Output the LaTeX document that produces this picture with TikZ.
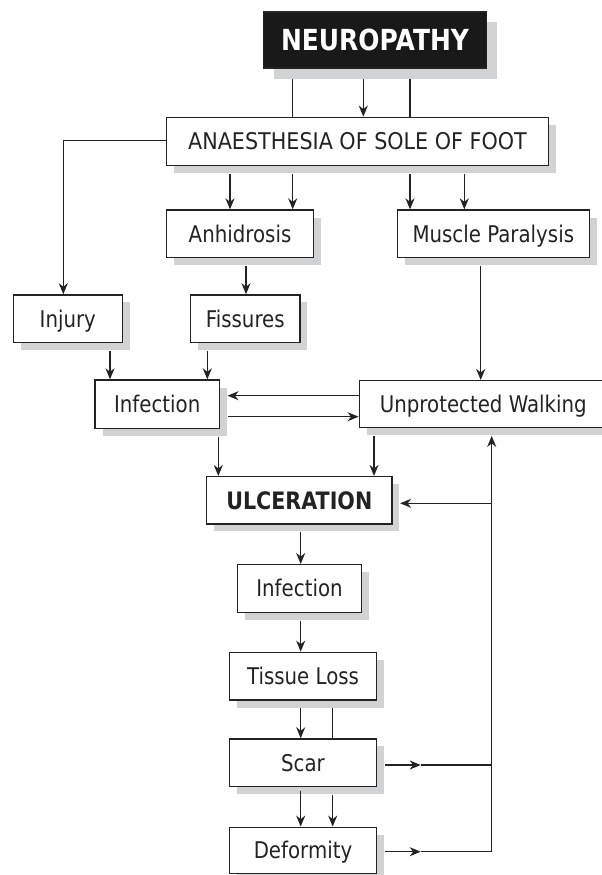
\documentclass[tikz,border=0pt]{standalone}
\usepackage{fontspec}
\setmainfont{DejaVu Sans}[FakeStretch=0.86]
\newfontfamily\capsfont{DejaVu Sans}[FakeStretch=0.9]
\usetikzlibrary{arrows.meta}
\definecolor{shadowgray}{RGB}{209,210,212}
\definecolor{inkgray}{RGB}{35,35,35}
\tikzset{
  sh/.style={preaction={draw=none, fill=shadowgray, transform canvas={xshift=#1, yshift=-#1}}},
  sh/.default=7.5pt,
  boxbase/.style={draw=inkgray, line width=1.4pt, fill=white, inner sep=0pt, align=center,
    text=inkgray, font=\fontsize{23}{27}\selectfont, text height=16.6pt, text depth=0pt},
  box/.style={boxbase, sh},
  ln/.style={draw=inkgray, color=inkgray, line width=1.35pt},
  arr/.style={ln, -{Stealth[length=11pt,width=9pt,inset=3.5pt]}}
}
\begin{document}
\begin{tikzpicture}[x=1pt,y=-1pt]
\useasboundingbox (0,0) rectangle (602,875);
\clip (0,0) rectangle (602,875);

% nodes
\node[boxbase, sh=10.5pt, fill=black!90, text=white, font=\bfseries\fontsize{29}{33}\selectfont,
      text height=21pt, minimum width=223.4pt, minimum height=56pt] (neuro) at (375,40) {NEUROPATHY};
\node[box, font=\capsfont\fontsize{23}{27}\selectfont, minimum width=381.6pt, minimum height=48.4pt] (anaes) at (357.5,141.5) {ANAESTHESIA OF SOLE OF FOOT};
\node[box, minimum width=146.6pt, minimum height=47.3pt] (anhid) at (240,233.7) {Anhidrosis};
\node[box, minimum width=192pt, minimum height=47.3pt] (muscle) at (493.3,233.7) {Muscle Paralysis};
\node[box, minimum width=109pt, minimum height=47.7pt] (injury) at (67.8,318.8) {Injury};
\node[box, minimum width=109.3pt, minimum height=47.7pt] (fiss) at (245.3,318.8) {Fissures};
\node[box, minimum width=124.3pt, minimum height=48.3pt] (infect1) at (157.2,404.2) {Infection};
\node[box, minimum width=248pt, minimum height=47pt] (walk) at (483.3,404.2) {Unprotected Walking};
\node[box, font=\bfseries\fontsize{24}{28}\selectfont, text height=17.5pt, minimum width=185.3pt, minimum height=47.3pt] (ulcer) at (299.3,500.3) {ULCERATION};
\node[box, minimum width=124.4pt, minimum height=47.6pt] (infect2) at (299.5,588.5) {Infection};
\node[box, minimum width=147.4pt, minimum height=47.7pt] (tissue) at (303,676.2) {Tissue Loss};
\node[box, minimum width=147.4pt, minimum height=47.7pt] (scar) at (303,762.8) {Scar};
\node[box, minimum width=147.4pt, minimum height=46pt] (deform) at (303,850.3) {Deformity};

% shadow-edge coordinates and junctions
\coordinate (i1e) at ([xshift=7.5pt]infect1.east);
\coordinate (i1S) at ([yshift=-7.5pt]infect1.south);
\coordinate (ulE) at ([xshift=7.5pt]ulcer.east);
\coordinate (scE) at ([xshift=7.5pt]scar.east);
\coordinate (deE) at ([xshift=7.5pt]deform.east);
\coordinate (wkS) at ([yshift=-7.5pt]walk.south);
\coordinate (scM) at (420.7,765);
\coordinate (deM) at (420.7,851.7);
\coordinate (jSc) at (491.7,765);
\coordinate (jDe) at (491.7,851.7);
\coordinate (jUl) at (491.7,503.3);

% connectors
\draw[ln]  (neuro.south -| 292.7,0) ++(0,10.5) -- (anaes.north -| 292.7,0);
\draw[arr] (neuro.south -| 363.3,0) ++(0,10.5) -- (anaes.north -| 363.3,0);
\draw[ln]  (neuro.south -| 410,0) ++(0,10.5) -- (anaes.north -| 410,0);

\draw[arr] (anaes.south -| 230,0) ++(0,7.5) -- (anhid.north -| 230,0);
\draw[arr] (anaes.south -| 292.7,0) ++(0,7.5) -- (anhid.north -| 292.7,0);
\draw[arr] (anaes.south -| 410,0) ++(0,7.5) -- (muscle.north -| 410,0);
\draw[arr] (anaes.south -| 464.3,0) ++(0,7.5) -- (muscle.north -| 464.3,0);
\draw[arr] (anaes.west |- 0,140.7) -| (injury.north -| 63.3,0);

\draw[arr] (anhid.south -| 246,0) ++(0,7.5) -- (fiss.north -| 246,0);
\draw[arr] (muscle.south -| 480.7,0) ++(0,7.5) -- (walk.north -| 480.7,0);
\draw[arr] (injury.south -| 110,0) ++(0,7.5) -- (infect1.north -| 110,0);
\draw[arr] (fiss.south -| 207.3,0) ++(0,7.5) -- (infect1.north -| 207.3,0);

\draw[arr] (walk.west |- 0,395.7) -- (i1e |- 0,395.7);
\draw[arr] (i1e |- 0,416.7) -- (walk.west |- 0,416.7);

\draw[arr] (i1S -| 218.3,0) -- (ulcer.north -| 218.3,0);
\draw[arr] (wkS -| 374,0) -- (ulcer.north -| 374,0);

\draw[arr] (scE |- scM) -- (scM);
\draw[ln]  (scM) -- (jSc);
\draw[arr] (deE |- deM) -- (deM);
\draw[ln]  (deM) -- (jDe);
\draw[arr] (jDe) -- (wkS -| jDe);
\draw[arr] (jUl) -- (ulE |- jUl);

\draw[arr] (ulcer.south -| 300.7,0) ++(0,7.5) -- (infect2.north -| 300.7,0);
\draw[arr] (infect2.south -| 300.7,0) ++(0,7.5) -- (tissue.north -| 300.7,0);
\draw[arr] (tissue.south -| 300.7,0) ++(0,7.5) -- (scar.north -| 300.7,0);
\draw[ln]  (tissue.south -| 332.7,0) ++(0,7.5) -- (scar.north -| 332.7,0);
\draw[arr] (scar.south -| 300.7,0) ++(0,3.5) -- (deform.north -| 300.7,0);
\draw[arr] (scar.south -| 332.7,0) ++(0,7.5) -- (deform.north -| 332.7,0);
\end{tikzpicture}
\end{document}
